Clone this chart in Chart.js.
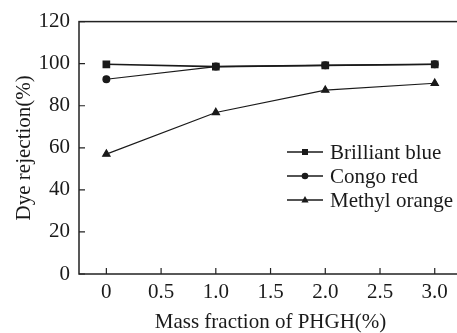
<!DOCTYPE html>
<html>
<head>
<meta charset="utf-8">
<script src="https://cdn.jsdelivr.net/npm/chart.js@4/dist/chart.umd.min.js"></script>
<style>
  html, body { margin: 0; padding: 0; background: #fff; overflow: hidden; }
  #wrap { position: relative; width: 468px; height: 333px; }
</style>
</head>
<body>
<div id="wrap"><canvas id="dye_chart"></canvas></div>
<script>
// data
const massFraction = [0, 1.0, 2.0, 3.0];
const brilliantBlue = [99.7, 98.6, 99.2, 99.7];
const congoRed = [92.6, 98.6, 99.2, 99.7];
const methylOrange = [57.0, 76.8, 87.4, 90.7];

const seriesNames = ["Brilliant blue", "Congo red", "Methyl orange"];
const xTickValues = [0, 0.5, 1.0, 1.5, 2.0, 2.5, 3.0];
const xTickLabels = ["0", "0.5", "1.0", "1.5", "2.0", "2.5", "3.0"];
const yTickValues = [0, 20, 40, 60, 80, 100, 120];

const INK = "#1a1a1a";
const FONT = "'Liberation Serif', 'Times New Roman', serif";
const FSIZE = 21;

function toPoints(ys) {
    return massFraction.map((x, i) => ({ x: x, y: ys[i] }));
}

// frame + inward tick marks
const frameTicks = {
    id: "frameTicks",
    afterDraw(chart) {
        const ctx = chart.ctx;
        const a = chart.chartArea;
        const xs = chart.scales.x;
        const ys = chart.scales.y;
        ctx.save();
        ctx.strokeStyle = "#222";
        ctx.lineWidth = 1.5;
        ctx.strokeRect(a.left, a.top, a.right - a.left, a.bottom - a.top);
        ctx.lineWidth = 1.2;
        ctx.beginPath();
        xs.ticks.forEach(t => {
            const px = xs.getPixelForValue(t.value);
            ctx.moveTo(px, a.bottom);
            ctx.lineTo(px, a.bottom - 6);
        });
        ys.ticks.forEach(t => {
            const py = ys.getPixelForValue(t.value);
            ctx.moveTo(a.left, py);
            ctx.lineTo(a.left + 6, py);
        });
        ctx.stroke();
        ctx.restore();
    },
};

// legend drawn inside the plot area
const insideLegend = {
    id: "insideLegend",
    afterDatasetsDraw(chart) {
        const ctx = chart.ctx;
        const rows = [152, 176, 200];
        const x0 = 287, x1 = 323, mx = 305, tx = 330;
        ctx.save();
        chart.data.datasets.forEach((ds, i) => {
            const y = rows[i];
            ctx.strokeStyle = INK;
            ctx.fillStyle = INK;
            ctx.lineWidth = 1.5;
            ctx.beginPath();
            ctx.moveTo(x0, y);
            ctx.lineTo(x1, y);
            ctx.stroke();
            ctx.beginPath();
            if (ds.pointStyle === "rect") {
                ctx.rect(mx - 3, y - 3, 6, 6);
            } else if (ds.pointStyle === "circle") {
                ctx.arc(mx, y, 3.3, 0, Math.PI * 2);
            } else {
                ctx.moveTo(mx, y - 4);
                ctx.lineTo(mx + 3.6, y + 2.5);
                ctx.lineTo(mx - 3.6, y + 2.5);
                ctx.closePath();
            }
            ctx.fill();
            ctx.font = FSIZE + "px " + FONT;
            ctx.textBaseline = "middle";
            ctx.textAlign = "left";
            ctx.fillText(ds.label, tx, y + 1);
        });
        ctx.restore();
    },
};

new Chart(document.getElementById("dye_chart"), {
    type: "scatter",
    data: {
        datasets: [
            {
                label: seriesNames[0],
                data: toPoints(brilliantBlue),
                showLine: true,
                borderColor: INK,
                backgroundColor: INK,
                borderWidth: 1.6,
                pointStyle: "rect",
                pointRadius: 4.3,
                order: 2,
            },
            {
                label: seriesNames[1],
                data: toPoints(congoRed),
                showLine: true,
                borderColor: INK,
                backgroundColor: INK,
                borderWidth: 1.2,
                pointStyle: "circle",
                pointRadius: 3.4,
                order: 1,
            },
            {
                label: seriesNames[2],
                data: toPoints(methylOrange),
                showLine: true,
                borderColor: INK,
                backgroundColor: INK,
                borderWidth: 1.2,
                pointStyle: "triangle",
                pointRadius: 4.2,
                order: 3,
            },
        ],
    },
    options: {
        responsive: true,
        maintainAspectRatio: false,
        animation: false,
        layout: { padding: { top: 21, right: 0, bottom: 0, left: 0 } },
        plugins: {
            legend: { display: false },
            tooltip: { enabled: false },
        },
        scales: {
            x: {
                type: "linear",
                min: -0.25,
                max: 3.25,
                grid: { display: false, drawTicks: false },
                border: { display: false },
                afterBuildTicks: scale => {
                    scale.ticks = xTickValues.map(v => ({ value: v }));
                },
                afterFit: scale => { scale.height = 59; },
                ticks: {
                    color: INK,
                    padding: 6,
                    maxRotation: 0,
                    font: { family: FONT, size: FSIZE },
                    callback: (v, i) => xTickLabels[i],
                },
                title: {
                    display: true,
                    text: "Mass fraction of PHGH(%)",
                    color: INK,
                    font: { family: FONT, size: FSIZE, lineHeight: 1 },
                    padding: { top: 0, bottom: 0 },
                },
            },
            y: {
                min: 0,
                max: 120,
                grid: { display: false, drawTicks: false },
                border: { display: false },
                afterBuildTicks: scale => {
                    scale.ticks = yTickValues.map(v => ({ value: v }));
                },
                afterFit: scale => { scale.width = 79; },
                ticks: {
                    color: INK,
                    padding: 9,
                    font: { family: FONT, size: FSIZE },
                },
                title: {
                    display: true,
                    text: "Dye rejection(%)",
                    color: INK,
                    font: { family: FONT, size: FSIZE, lineHeight: 1 },
                    padding: { top: 14, bottom: 0 },
                },
            },
        },
    },
    plugins: [frameTicks, insideLegend],
});
</script>
</body>
</html>
